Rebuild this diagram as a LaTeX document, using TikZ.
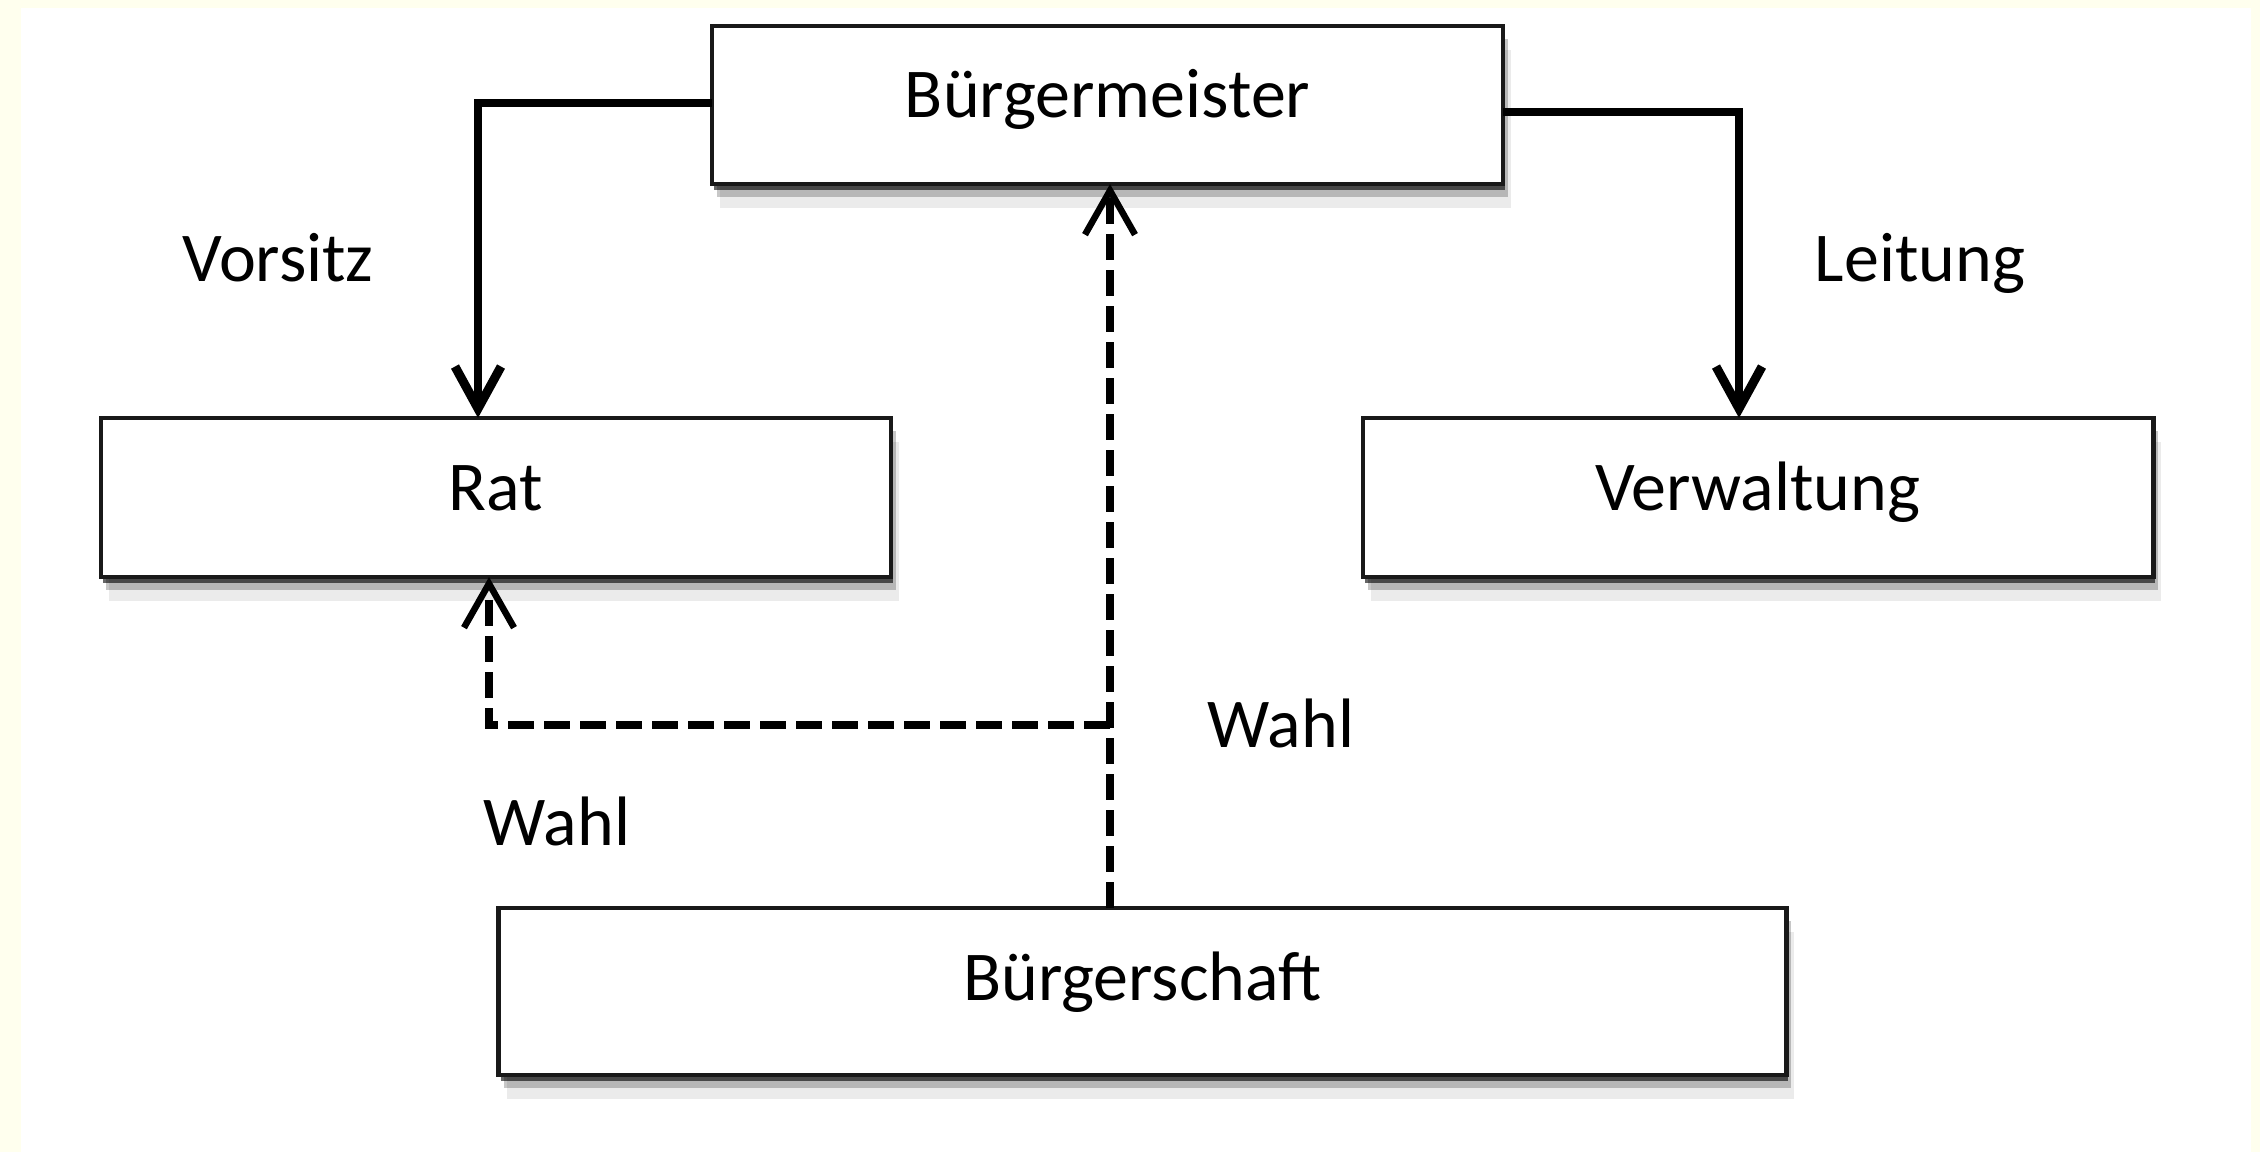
\documentclass[tikz,border=0pt]{standalone}
\usepackage{fontspec}
\setmainfont{Carlito}
\usetikzlibrary{arrows.meta,shadows}
\definecolor{bgyellow}{RGB}{255,255,238}
\tikzset{
  orgbox/.style={draw=black!90, line width=0.045cm, fill=white, rectangle,
    inner sep=0pt, outer sep=0pt,
    text height=0.45cm, text depth=0.2cm,
    font=\fontsize{19.9pt}{24pt}\selectfont,
    drop shadow={shadow xshift=0.02cm, shadow yshift=-0.06cm, fill=black, opacity=0.6},
    drop shadow={shadow xshift=0.05cm, shadow yshift=-0.13cm, fill=black, opacity=0.22},
    drop shadow={shadow xshift=0.08cm, shadow yshift=-0.24cm, fill=black, opacity=0.08}},
  lbl/.style={anchor=base, inner sep=0pt, font=\fontsize{19.9pt}{24pt}\selectfont},
  solidarrow/.style={line width=0.085cm, -{Straight Barb[length=0.42cm, width=0.46cm, line width=0.09cm]}},
  dasharrow/.style={line width=0.075cm, dash pattern=on 0.26cm off 0.1cm,
    -{Straight Barb[length=0.44cm, width=0.5cm, line width=0.065cm]}},
  dashline/.style={line width=0.075cm, dash pattern=on 0.26cm off 0.1cm}
}
\begin{document}
\begin{tikzpicture}[x=0.01cm, y=-0.01cm]
  \useasboundingbox (0,0) rectangle (2260,1152);
  \fill[bgyellow] (0,0) rectangle (2260,1152);
  \fill[white] (21,8) rectangle (2251,1152);

  \node[orgbox, minimum width=7.91cm, minimum height=1.58cm] (bm)   at (1107.5,105)   {Bürgermeister};
  \node[orgbox, minimum width=7.90cm, minimum height=1.59cm] (rat)  at (496,497.5)    {Rat};
  \node[orgbox, minimum width=7.90cm, minimum height=1.59cm] (verw) at (1758,497.5)   {Verwaltung};
  \node[orgbox, minimum width=12.87cm, minimum height=1.67cm, text depth=0.28cm] (bs)  at (1142.5,991.5) {Bürgerschaft};

  \coordinate (v1) at (478,103);
  \coordinate (l1) at (1739,112);
  \coordinate (j)  at (1110,725);
  \coordinate (r1) at (489,725);

  \draw[solidarrow] (bm.west |- v1) -- (v1) -- (rat.north -| v1);
  \draw[solidarrow] (bm.east |- l1) -- (l1) -- (verw.north -| l1);
  \draw[dasharrow] (bs.north -| j) -- (bm.south -| j);
  \draw[dasharrow] (j) -- (r1) -- (rat.south -| r1);

  \node[lbl] (tvorsitz) at (278,282)  {Vorsitz};
  \node[lbl] (tleitung) at (1920,282) {Leitung};
  \node[lbl] (twahlr)   at (1281,747) {Wahl};
  \node[lbl] (twahll)   at (557,845)  {Wahl};
\end{tikzpicture}
\end{document}
